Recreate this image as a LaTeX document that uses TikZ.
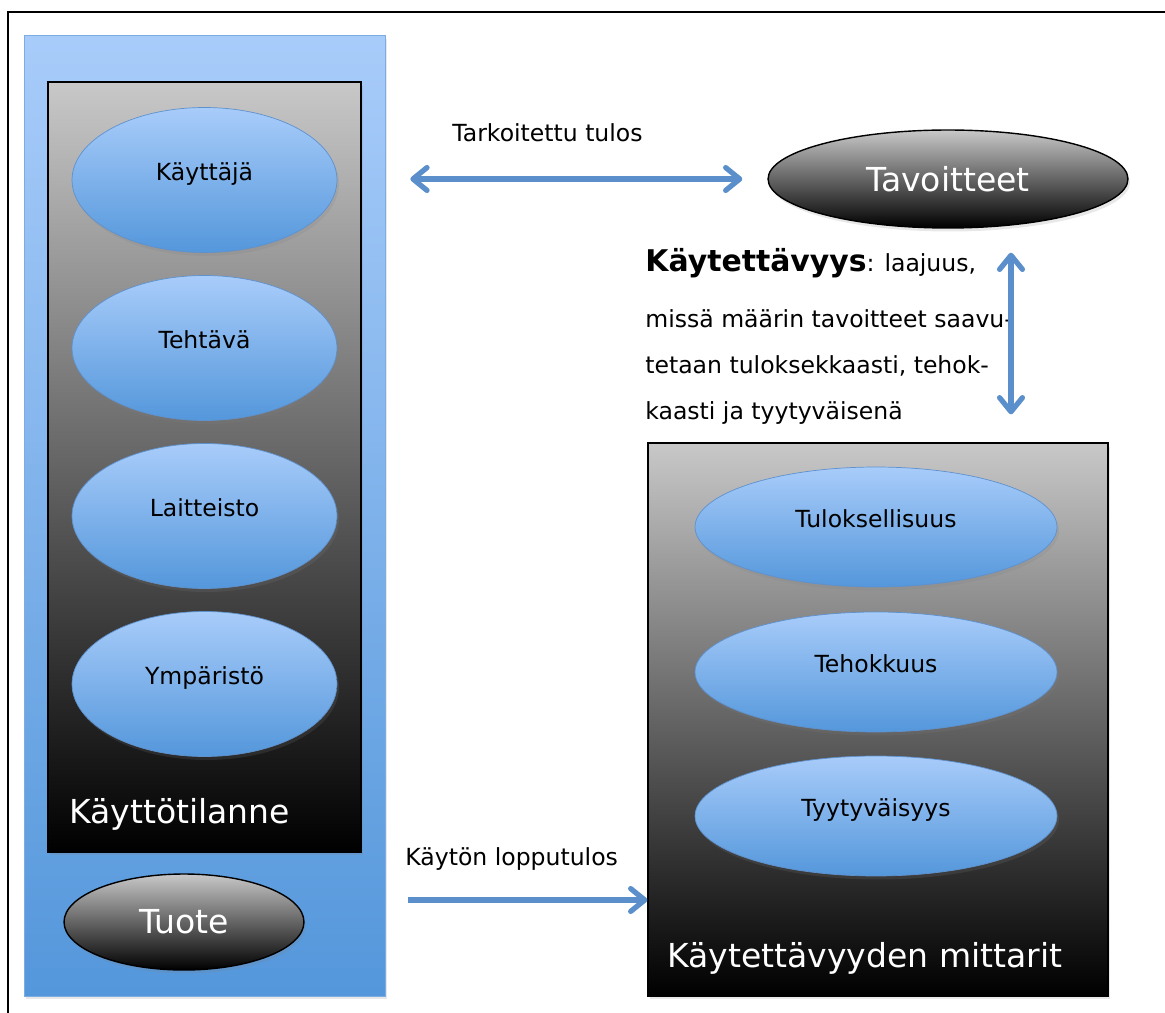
\documentclass[tikz,border=0pt]{standalone}
\usepackage{fontspec}
\setmainfont{DejaVu Sans}
\usetikzlibrary{shapes.geometric, arrows.meta, shadows}

\definecolor{bluetop}{RGB}{168,204,250}
\definecolor{bluebot}{RGB}{84,151,219}
\definecolor{blueedge}{RGB}{95,145,205}
\definecolor{boxedge}{RGB}{125,172,226}
\definecolor{graytop}{RGB}{200,200,200}
\definecolor{arrowblue}{RGB}{90,143,203}

\begin{document}
\begin{tikzpicture}[x = 0.02cm, y = -0.02cm, >= {Straight Barb[length = 8pt, width = 13pt, round]},
    smallfont/.style = {font = \fontsize{13.4}{16}\selectfont},
    bigfont/.style = {font = \fontsize{18.8}{22}\selectfont},
    shade/.style = {drop shadow = {opacity = .18, shadow xshift = .04cm, shadow yshift = -.07cm}},
    blueell/.style = {ellipse, draw = blueedge, top color = bluetop, bottom color = bluebot, shade,
        smallfont, text height = 10pt, text depth = 9.5pt},
    darkell/.style = {ellipse, draw = black, thick, top color = graytop, bottom color = black, shade,
        text = white, bigfont},
    darkbox/.style = {rectangle, draw = black, thick, top color = graytop, bottom color = black, shade},
    barrow/.style = {draw = arrowblue, line width = 3pt}]

    \useasboundingbox (0, 0) rectangle (1165, 1013);
    \draw [line width = 1.1pt] (1165, 12) -- (8, 12) -- (8, 1013);

    % kayttotilanne ja tuote
    \node [rectangle, draw = boxedge, top color = bluetop, bottom color = bluebot, shade,
        minimum width = 7.22cm, minimum height = 19.22cm] (kaytto) at (204.5, 515.5) {};
    \node [darkbox, minimum width = 6.26cm, minimum height = 15.4cm] (tilannebox) at (204.5, 467) {};
    \node [blueell, minimum width = 5.3cm, minimum height = 2.9cm] (kayttaja) at (204.5, 180) {Käyttäjä};
    \node [blueell, minimum width = 5.3cm, minimum height = 2.9cm] (tehtava) at (204.5, 348) {Tehtävä};
    \node [blueell, minimum width = 5.3cm, minimum height = 2.9cm] (laitteisto) at (204.5, 516) {Laitteisto};
    \node [blueell, minimum width = 5.3cm, minimum height = 2.9cm] (ymparisto) at (204.5, 684) {Ympäristö};
    \node [anchor = base west, inner sep = 0, text = white, bigfont] (tilanne) at (69, 823) {Käyttötilanne};
    \node [darkell, minimum width = 4.8cm, minimum height = 1.92cm] (tuote) at (184, 922) {Tuote};

    % tavoitteet ja mittarit
    \node [darkell, minimum width = 7.2cm, minimum height = 1.96cm] (tav) at (948, 179) {Tavoitteet};
    \node [darkbox, minimum width = 9.2cm, minimum height = 11.06cm] (mitt) at (878, 719.5) {};
    \node [blueell, minimum width = 7.24cm, minimum height = 2.4cm] (tulos) at (876, 527) {Tuloksellisuus};
    \node [blueell, minimum width = 7.24cm, minimum height = 2.4cm] (teho) at (876, 672) {Tehokkuus};
    \node [blueell, minimum width = 7.24cm, minimum height = 2.4cm] (tyyt) at (876, 816) {Tyytyväisyys};
    \node [anchor = base west, inner sep = 0, text = white, bigfont] (mittarit) at (667, 967) {Käytettävyyden mittarit};

    % maaritelma
    \node [anchor = base west, inner sep = 0, smallfont] (maar1) at (645, 272)
        {{\fontsize{17}{20}\selectfont\bfseries Käytettävyys}: laajuus,};
    \node [anchor = base west, inner sep = 0, smallfont] (maar2) at (645, 327) {missä määrin tavoitteet saavu-};
    \node [anchor = base west, inner sep = 0, smallfont] (maar3) at (645, 373) {tetaan tuloksekkaasti, tehok-};
    \node [anchor = base west, inner sep = 0, smallfont] (maar4) at (645, 419) {kaasti ja tyytyväisenä};

    % nuolet
    \draw [barrow, <->, shorten <= .5cm, shorten >= .5cm] (kaytto.east |- tav.west) -- (tav.west);
    \node [anchor = base west, inner sep = 0, smallfont] (tarkoitettu) at (452, 142) {Tarkoitettu tulos};

    \coordinate (vx) at (1011, 0);
    \draw [barrow, <->, shorten <= .48cm, shorten >= .56cm] (tav.south -| vx) -- (mitt.north -| vx);

    \coordinate (lstart) at (408, 900);
    \draw [barrow, ->] (lstart) -- (lstart -| mitt.west);
    \node [anchor = base west, inner sep = 0, smallfont] (lopputulos) at (405, 865) {Käytön lopputulos};
\end{tikzpicture}
\end{document}
